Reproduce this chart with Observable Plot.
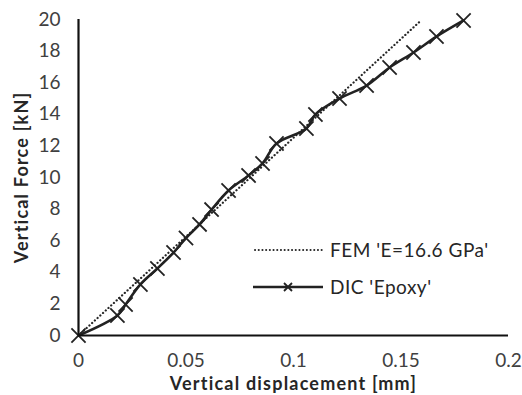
<!DOCTYPE html>
<html>
<head>
<meta charset="utf-8">
<script src="https://cdn.jsdelivr.net/npm/d3@7"></script>
<script src="https://cdn.jsdelivr.net/npm/@observablehq/plot@0.6"></script>
<style>
  html, body { margin: 0; padding: 0; background: #fff; }
  #wrap { position: relative; width: 522px; height: 395px; font-family: "Lato", sans-serif; }
  #legend { position: absolute; left: 253px; top: 231px; font-size: 19px; letter-spacing: 0.5px; color: #262626; }
  #legend .row { display: flex; align-items: center; height: 37px; }
  #legend svg { margin-right: 7px; }
</style>
</head>
<body>
<div id="wrap"></div>
<script>
const femX = [0, 0.159];
const femY = [0, 19.9];
const dicX = [0, 0.0181, 0.0219, 0.0288, 0.0367, 0.0442, 0.0500, 0.0563, 0.0619, 0.0698, 0.0791, 0.0856, 0.0921, 0.1060, 0.1102, 0.1214, 0.1340, 0.1447, 0.1558, 0.1665, 0.1791];
const dicY = [0, 1.27, 1.96, 3.23, 4.24, 5.25, 6.17, 7.03, 7.97, 9.18, 10.13, 10.89, 12.15, 13.10, 13.99, 15.00, 15.82, 16.96, 17.91, 18.92, 19.94];
const xTicks = [0, 0.05, 0.1, 0.15, 0.2];
const yTicks = [0, 2, 4, 6, 8, 10, 12, 14, 16, 18, 20];
const seriesNames = ["FEM 'E=16.6 GPa'", "DIC 'Epoxy'"];

const fem = femX.map((x, i) => ({x, y: femY[i]}));
const dic = dicX.map((x, i) => ({x, y: dicY[i]}));

const chart = Plot.plot({
  width: 522,
  height: 395,
  marginLeft: 78,
  marginRight: 14,
  marginTop: 19,
  marginBottom: 60,
  style: { fontFamily: "Lato, sans-serif", fontSize: "19px", color: "#404040", background: "#fff" },
  x: { domain: [0, 0.2], ticks: xTicks, tickFormat: d => String(d), label: null },
  y: { domain: [0, 20], ticks: yTicks, label: null },
  marks: [
    Plot.axisX({ ticks: xTicks, tickSize: 0, tickPadding: 18, tickFormat: d => String(d), fontSize: 19 }),
    Plot.axisY({ ticks: yTicks, tickSize: 0, tickPadding: 18, fontSize: 19 }),
    Plot.line(fem, { x: "x", y: "y", stroke: "#262626", strokeWidth: 2.2, strokeDasharray: "0.1 3.6", strokeLinecap: "round" }),
    Plot.line(dic, { x: "x", y: "y", stroke: "#222", strokeWidth: 2.6, curve: "catmull-rom" }),
    Plot.dot(dic, { x: "x", y: "y", symbol: "times", r: 6.5, stroke: "#222", strokeWidth: 1.8 }),
    Plot.ruleX([0], { stroke: "#111", strokeWidth: 2.2 }),
    Plot.ruleY([0], { stroke: "#111", strokeWidth: 2.2 }),
    Plot.text(["Vertical displacement [mm]"], { frameAnchor: "bottom", dy: 54, fontWeight: "bold", fontSize: 18, fill: "#262626" }),
    Plot.text(["Vertical Force [kN]"], { frameAnchor: "left", textAnchor: "middle", dx: -56, rotate: -90, fontWeight: "bold", fontSize: 18, fill: "#262626" })
  ]
});

const wrap = document.getElementById("wrap");
wrap.appendChild(chart);
// widen bold titles like the reference's geometric face
chart.querySelectorAll("text").forEach(t => {
  if (t.textContent === "Vertical displacement [mm]" || t.textContent === "Vertical Force [kN]") t.style.letterSpacing = "1.2px";
});

const legend = document.createElement("div");
legend.id = "legend";
legend.innerHTML = `
<div class="row"><svg width="70" height="10"><line x1="2" y1="5" x2="69" y2="5" stroke="#262626" stroke-width="2" stroke-dasharray="0.1 3.6" stroke-linecap="round"/></svg><span>${seriesNames[0]}</span></div>
<div class="row"><svg width="70" height="12"><line x1="0" y1="6" x2="70" y2="6" stroke="#222" stroke-width="2.4"/><path d="M35,6m-4,-4l8,8m0,-8l-8,8" stroke="#222" stroke-width="1.8"/></svg><span>${seriesNames[1]}</span></div>`;
wrap.appendChild(legend);
</script>
</body>
</html>
